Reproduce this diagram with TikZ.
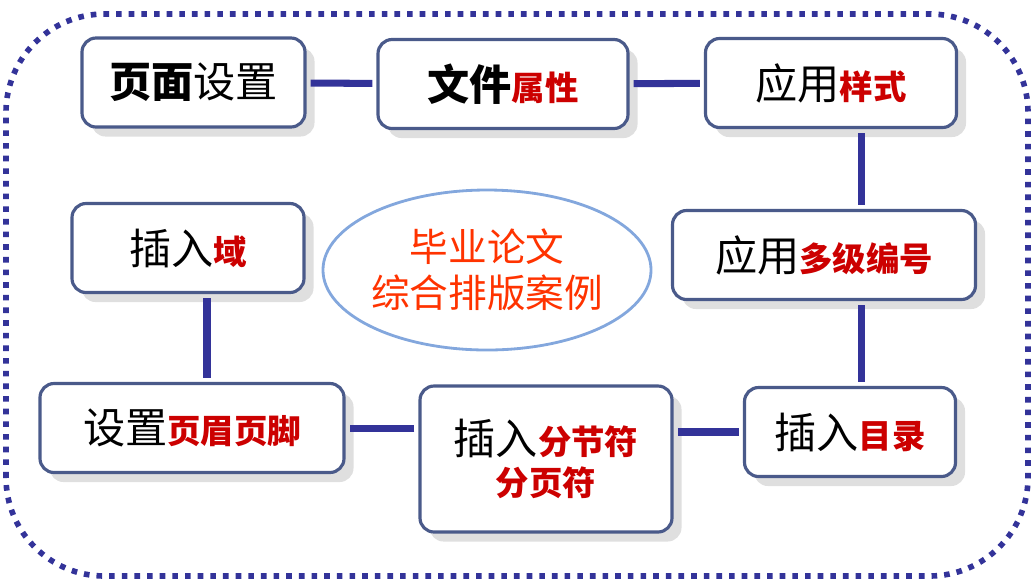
\documentclass[tikz,border=0pt]{standalone}
\usepackage{fontspec}
\setmainfont{Noto Sans CJK SC}
\usetikzlibrary{shapes.geometric,shadows}
\definecolor{linkblue}{HTML}{333399}
\definecolor{boxline}{HTML}{4A5A8A}
\definecolor{hotred}{HTML}{CC0000}
\definecolor{titlered}{HTML}{FF3300}
\newcommand{\hl}[1]{{\color{hotred}\fontsize{9.5}{10}\selectfont\bfseries #1}}
\begin{document}
\begin{tikzpicture}[x=1cm,y=1cm,
    block/.style={rectangle, draw=boxline, line width=0.9pt, rounded corners=4pt,
      fill=white, drop shadow={opacity=0.25}, minimum height=8.9mm,
      font=\fontsize{12}{13}\selectfont, align=center},
    link/.style={draw=linkblue, line width=2pt, shorten >=0.4mm, shorten <=0.4mm}
]
\useasboundingbox (0,0) rectangle (10.34,5.82);
\draw[linkblue, line width=1.6pt, dotted, rounded corners=28pt] (0.06,0.06) rectangle (10.28,5.68);

\node[block, minimum width=22.3mm] (layout) at (1.935,4.995) {\textbf{页面}设置};
\node[block, minimum width=25mm] (props) at (5.03,4.98) {\textbf{文件}\hl{属性}};
\node[block, minimum width=25.1mm] (style) at (8.31,4.99) {应用\hl{样式}};
\node[block, minimum width=23.2mm] (field) at (1.88,3.34) {插入\hl{域}};
\node[block, minimum width=30.3mm] (multi) at (8.24,3.27) {应用\hl{多级编号}};
\node[block, minimum width=30.4mm] (header) at (1.92,1.54) {设置\hl{页眉页脚}};
\node[block, minimum width=25.2mm, minimum height=14.6mm] (section) at (5.46,1.23)
  {插入\hl{分节符}\\[-0.5mm]\hl{分页符}};
\node[block, minimum width=21.1mm] (toc) at (8.50,1.50) {插入\hl{目录}};

\node[ellipse, draw=cyan!50!blue!50, line width=0.8pt, inner sep=0pt, minimum width=30mm,
  minimum height=16mm, text=titlered, font=\fontsize{11}{13}\selectfont, align=center]
  (title) at (4.87,3.12) {毕业论文\\综合排版案例};

\draw[link] (layout) -- (props);
\draw[link] (props) -- (style);
\draw[link] (style.south) ++(0.3,0) coordinate (s1) (s1) -- (s1 |- multi.north);
\draw[link] (multi.south) ++(0.37,0) coordinate (m1) (m1) -- (m1 |- toc.north);
\draw[link] (toc) -- (toc -| section.east);
\draw[link] (section.west |- header) -- (header);
\draw[link] (header.north) ++(0.15,0) coordinate (h1) (h1) -- (h1 |- field.south);
\end{tikzpicture}
\end{document}
